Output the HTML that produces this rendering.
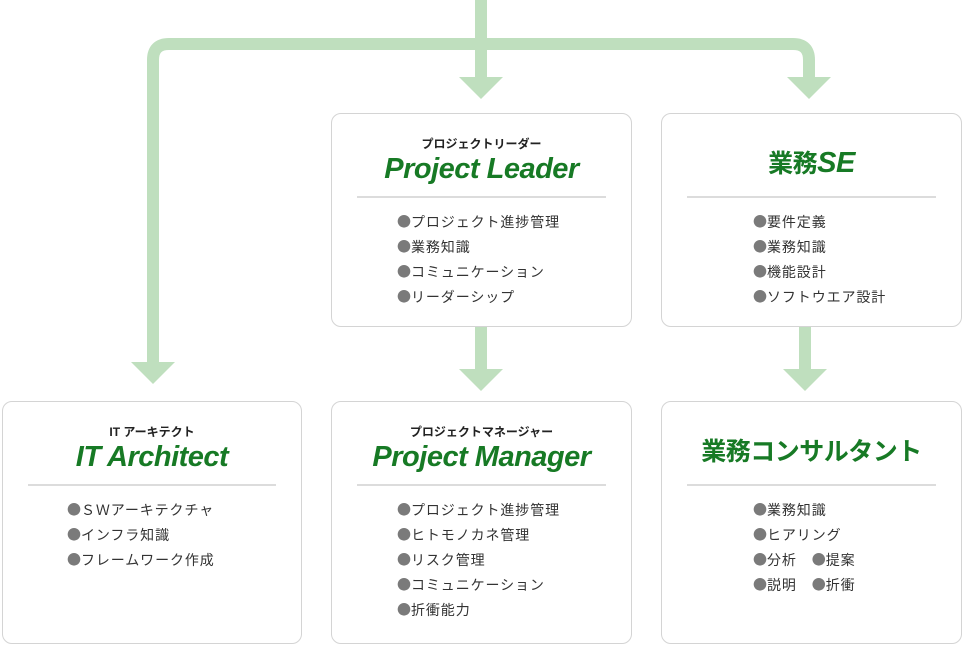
<!DOCTYPE html>
<html><head><meta charset="utf-8"><style>
body{margin:0;width:962px;height:645px;background:#fff;position:relative;overflow:hidden;font-family:"Liberation Sans","Noto Sans CJK JP",sans-serif;}
.box{position:absolute;border:1.5px solid #d4d4d4;border-radius:10px;background:#fff;box-sizing:border-box;}
.sub{position:absolute;left:0;right:0;text-align:center;font-size:12px;font-weight:bold;color:#222;}
.ttl{position:absolute;left:0;right:0;text-align:center;font-size:29px;font-weight:bold;font-style:italic;color:#177a25;letter-spacing:-0.5px;}
.jt{font-style:normal;font-size:25px;}
.hr{position:absolute;left:25px;right:25px;height:2px;background:#dcdcdc;}
.ul{position:absolute;font-size:14px;color:#333;line-height:25px;white-space:nowrap;letter-spacing:0.9px;}
.ul span{color:#7a7a7a;font-family:"Noto Sans CJK JP",sans-serif;letter-spacing:0;}
</style></head><body>
<svg width="962" height="645" style="position:absolute;left:0;top:0">
<g fill="none" stroke="#bfdfbe" stroke-width="12">
<path d="M153 362 V60 Q153 44 169 44 H793 Q809 44 809 60 V78"/>
<path d="M481 0 V78"/>
<path d="M481 326 V370"/>
<path d="M805 326 V370"/>
</g>
<g fill="#bfdfbe">
<polygon points="131,362 175,362 153,384"/>
<polygon points="459,77 503,77 481,99"/>
<polygon points="787,77 831,77 809,99"/>
<polygon points="459,369 503,369 481,391"/>
<polygon points="783,369 827,369 805,391"/>
</g>
</svg>

<div class="box" style="left:331px;top:113px;width:301px;height:214px">
<div class="sub" style="top:21px">プロジェクトリーダー</div>
<div class="ttl" style="top:39px">Project Leader</div>
<div class="hr" style="top:82px"></div>
<div class="ul" style="left:65px;top:96px"><span>●</span>プロジェクト進捗管理<br><span>●</span>業務知識<br><span>●</span>コミュニケーション<br><span>●</span>リーダーシップ</div>
</div>

<div class="box" style="left:661px;top:113px;width:301px;height:214px">
<div class="ttl" style="top:30px"><span class="jt">業務</span>SE</div>
<div class="hr" style="top:82px"></div>
<div class="ul" style="left:91px;top:96px"><span>●</span>要件定義<br><span>●</span>業務知識<br><span>●</span>機能設計<br><span>●</span>ソフトウエア設計</div>
</div>

<div class="box" style="left:2px;top:401px;width:300px;height:243px">
<div class="sub" style="top:21px">IT アーキテクト</div>
<div class="ttl" style="top:39px">IT Architect</div>
<div class="hr" style="top:82px"></div>
<div class="ul" style="left:64px;top:96px"><span>●</span>ＳＷアーキテクチャ<br><span>●</span>インフラ知識<br><span>●</span>フレームワーク作成</div>
</div>

<div class="box" style="left:331px;top:401px;width:301px;height:243px">
<div class="sub" style="top:21px">プロジェクトマネージャー</div>
<div class="ttl" style="top:39px">Project Manager</div>
<div class="hr" style="top:82px"></div>
<div class="ul" style="left:65px;top:96px"><span>●</span>プロジェクト進捗管理<br><span>●</span>ヒトモノカネ管理<br><span>●</span>リスク管理<br><span>●</span>コミュニケーション<br><span>●</span>折衝能力</div>
</div>

<div class="box" style="left:661px;top:401px;width:301px;height:243px">
<div class="ttl jt" style="top:30px">業務コンサルタント</div>
<div class="hr" style="top:82px"></div>
<div class="ul" style="left:91px;top:96px"><span>●</span>業務知識<br><span>●</span>ヒアリング<br><span>●</span>分析　<span>●</span>提案<br><span>●</span>説明　<span>●</span>折衝</div>
</div>
</body></html>
